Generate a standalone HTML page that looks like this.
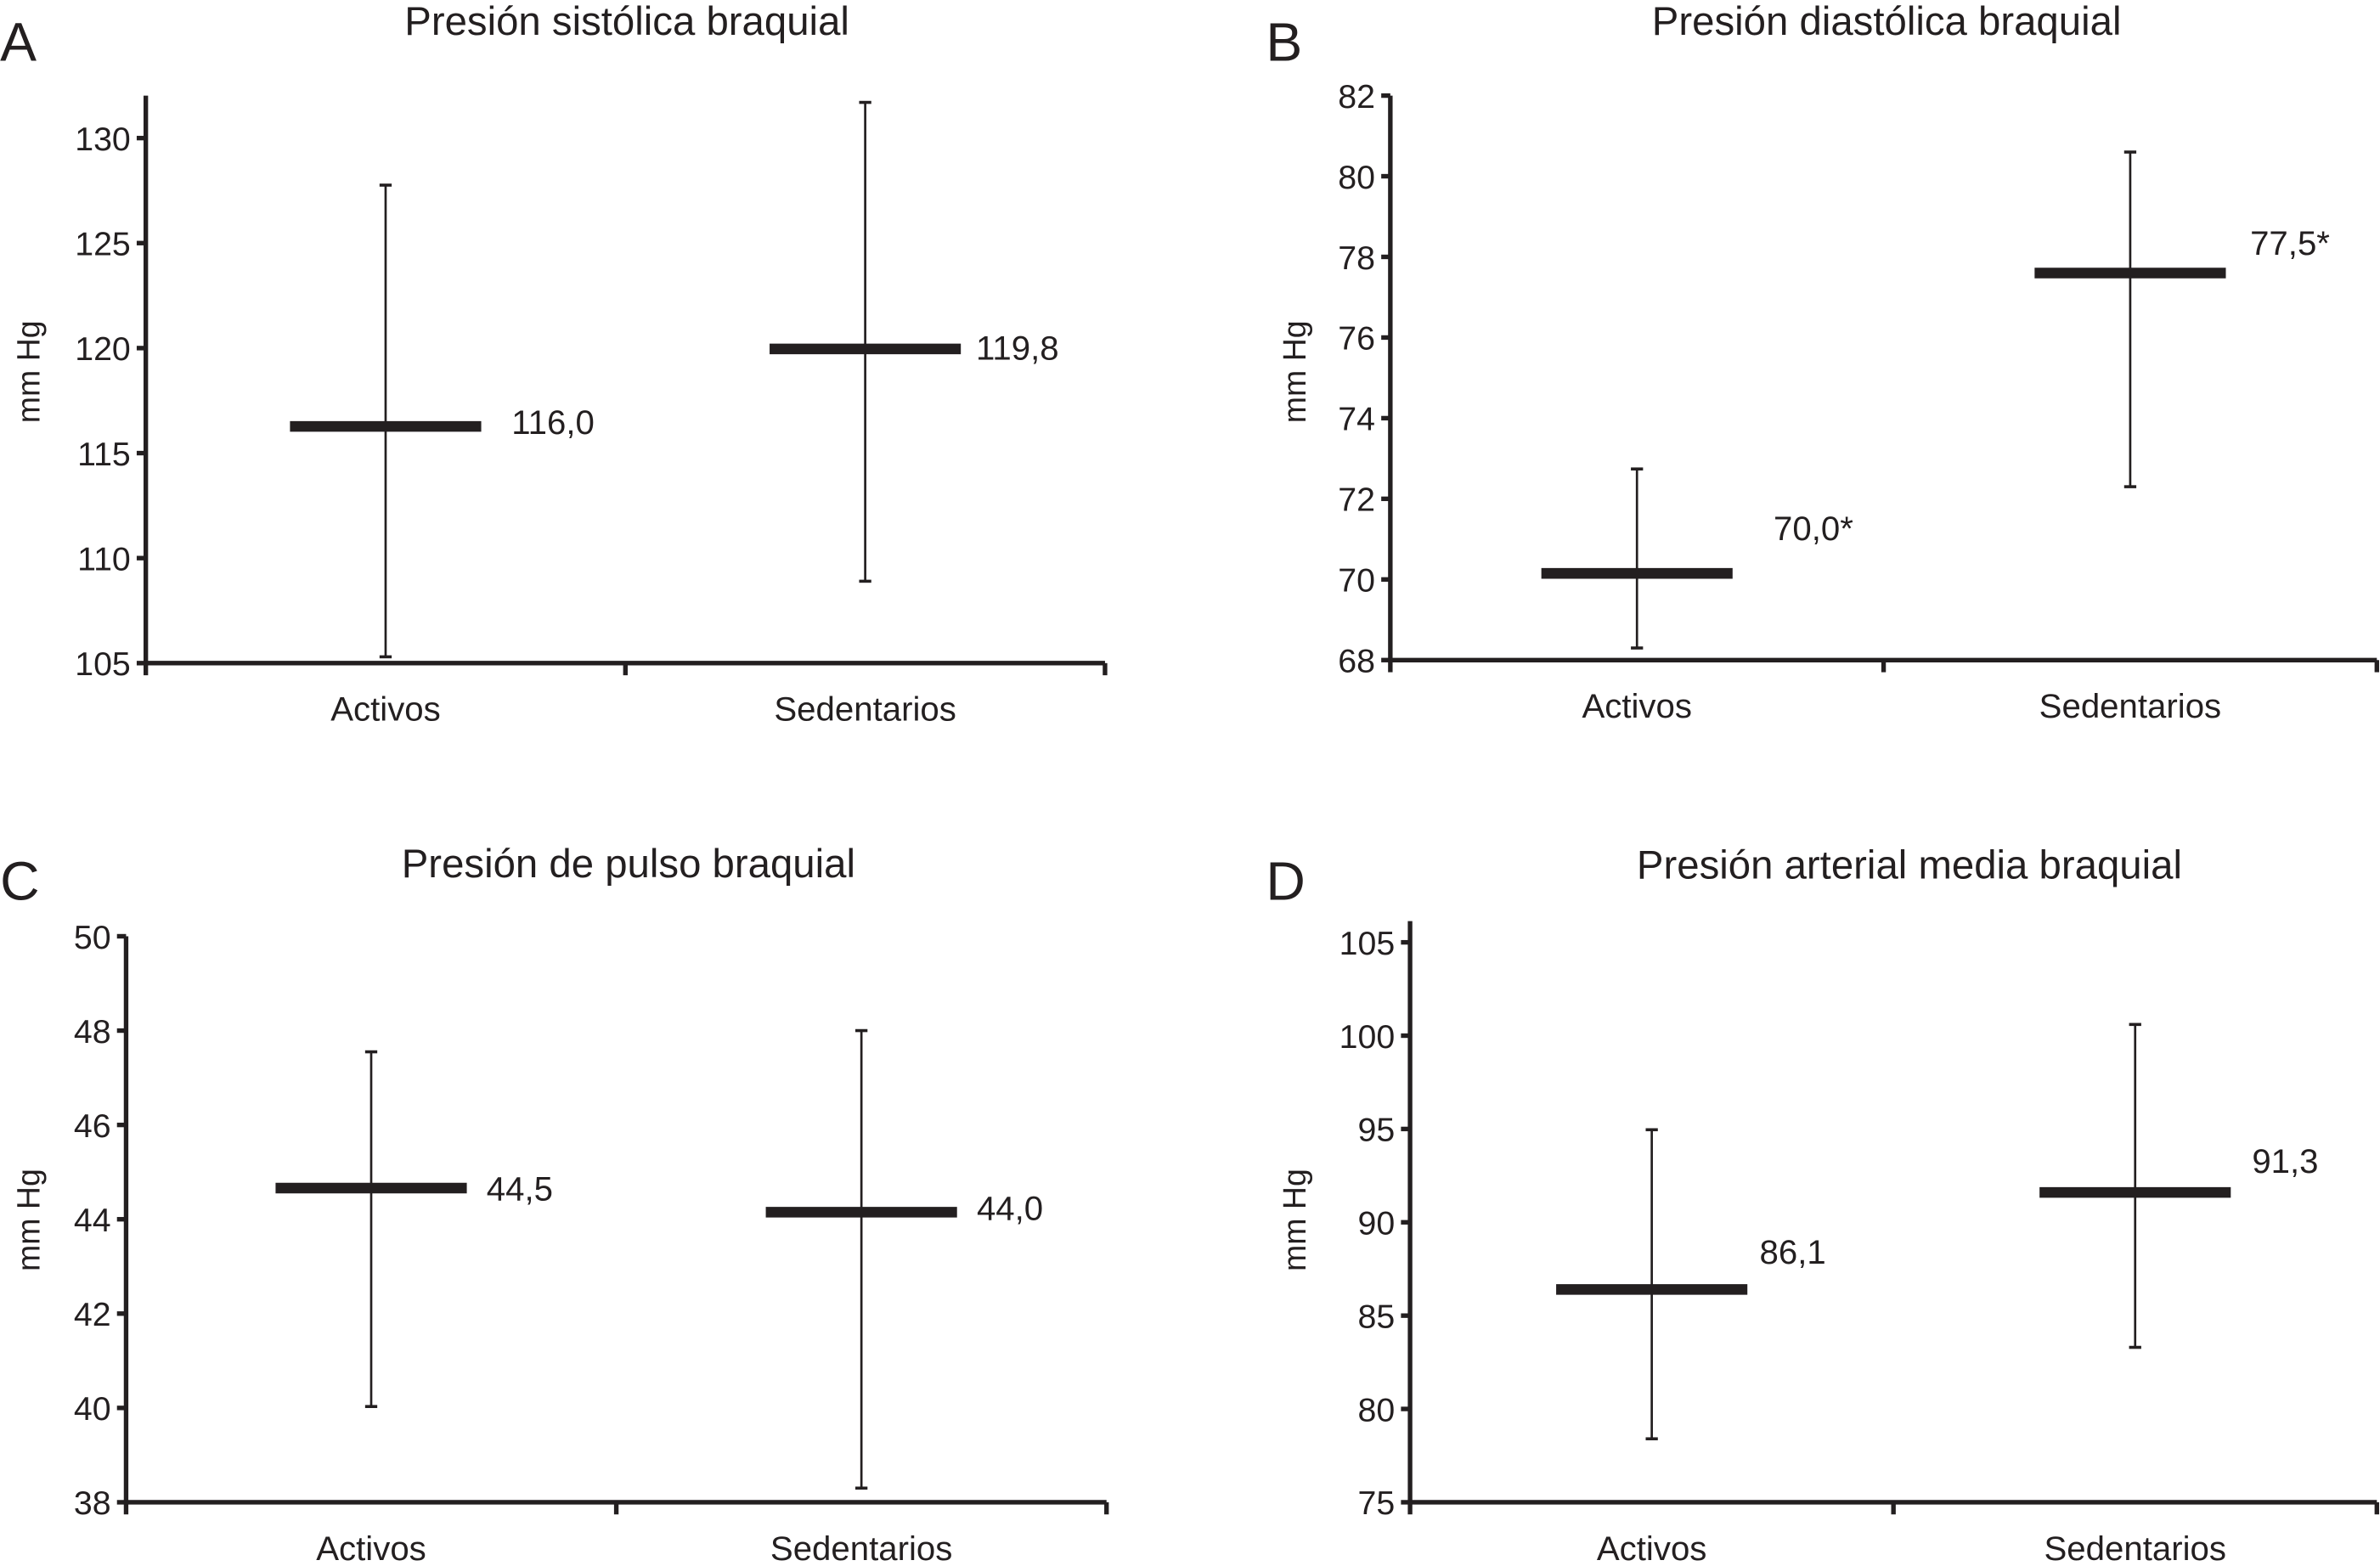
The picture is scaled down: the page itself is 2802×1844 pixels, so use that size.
<!DOCTYPE html>
<html><head><meta charset="utf-8"><style>
html,body{margin:0;padding:0;background:#fff;}
svg{display:block;}
text{font-family:"Liberation Sans",Arial,sans-serif;fill:#231f20;}
</style></head><body>
<svg id="chart" width="2802" height="1844" viewBox="0 0 1568 1032" xmlns="http://www.w3.org/2000/svg"></svg>
<script>
const categories = ["Activos","Sedentarios"];
const titles = ["Presión sistólica braquial","Presión diastólica braquial","Presión de pulso braquial","Presión arterial media braquial"];
const letters = ["A","B","C","D"];
const meansA = [116.27, 119.96];
const upperA = [127.76, 131.7];
const lowerA = [105.3, 108.9];
const labelsA = ["116,0","119,8"];
const ticksA = [105,110,115,120,125,130];
const meansB = [70.15, 77.6];
const upperB = [72.74, 80.6];
const lowerB = [68.3, 72.3];
const labelsB = ["70,0*","77,5*"];
const ticksB = [68,70,72,74,76,78,80,82];
const meansC = [44.66, 44.15];
const upperC = [47.55, 48.0];
const lowerC = [40.03, 38.3];
const labelsC = ["44,5","44,0"];
const ticksC = [38,40,42,44,46,48,50];
const meansD = [86.4, 91.6];
const upperD = [94.96, 100.6];
const lowerD = [78.4, 83.3];
const labelsD = ["86,1","91,3"];
const ticksD = [75,80,85,90,95,100,105];

const NS="http://www.w3.org/2000/svg";
const svg=document.getElementById('chart');
function mk(tag,attrs,parent){const e=document.createElementNS(NS,tag);for(const k in attrs)e.setAttribute(k,attrs[k]);(parent||svg).appendChild(e);return e;}

const panels=[
 {means:meansA,up:upperA,lo:lowerA,labels:labelsA,ticks:ticksA,ax:96,x1:728,yTop:63,yBot:437,vMin:105,vMax:130,vMaxY:91,titleX:413,titleY:23,letterX:0,letterY:40,ylabX:26,ylabY:245,lab:[[20,5],[10,7]],name:'panel-a'},
 {means:meansB,up:upperB,lo:lowerB,labels:labelsB,ticks:ticksB,ax:916,x1:1566,yTop:63,yBot:435,vMin:68,vMax:82,vMaxY:63,titleX:1243,titleY:23,letterX:834,letterY:40,ylabX:860,ylabY:245,lab:[[27,-22],[16,-12]],name:'panel-b'},
 {means:meansC,up:upperC,lo:lowerC,labels:labelsC,ticks:ticksC,ax:83,x1:729,yTop:617,yBot:990,vMin:38,vMax:50,vMaxY:617,titleX:414,titleY:578,letterX:0,letterY:593,ylabX:26,ylabY:804,lab:[[13,8],[13,5]],name:'panel-c'},
 {means:meansD,up:upperD,lo:lowerD,labels:labelsD,ticks:ticksD,ax:929,x1:1566,yTop:607,yBot:990,vMin:75,vMax:105,vMaxY:621,titleX:1258,titleY:579,letterX:834,letterY:593,ylabX:860,ylabY:804,lab:[[8,-17],[14,-13]],name:'panel-d'}
];
panels.forEach((p,pi)=>{
 const g=mk('g',{});
 
 
 const y=v=>p.yBot-(v-p.vMin)/(p.vMax-p.vMin)*(p.yBot-p.vMaxY);
 const w=(p.x1-p.ax)/categories.length;
 const cx=i=>p.ax+w*(i+0.5);
 const L=mk('text',{x:p.letterX,y:p.letterY,'font-size':36},g);L.textContent=letters[pi];
 
 
 const T=mk('text',{x:p.titleX,y:p.titleY,'font-size':26.5,'text-anchor':'middle'},g);T.textContent=titles[pi];
 
 
 const Y=mk('text',{x:p.ylabX,y:p.ylabY,'font-size':21,'text-anchor':'middle',transform:`rotate(-90 ${p.ylabX} ${p.ylabY})`},g);Y.textContent='mm Hg';
 
 
 const ya=mk('line',{x1:p.ax,y1:p.yTop,x2:p.ax,y2:p.yBot,stroke:'#231f20','stroke-width':3},g);
 
 
 const xa=mk('line',{x1:p.ax-1.5,y1:p.yBot,x2:p.x1,y2:p.yBot,stroke:'#231f20','stroke-width':3},g);
 
 
 p.ticks.forEach(t=>{
  mk('line',{x1:p.ax-6,y1:y(t),x2:p.ax,y2:y(t),stroke:'#231f20','stroke-width':3},g);
  const tt=mk('text',{x:p.ax-10,y:y(t)+8,'font-size':22,'text-anchor':'end'},g);tt.textContent=t;
  
  
 });
 for(let i=0;i<=categories.length;i++){
  const xx=p.ax+w*i;
  mk('line',{x1:xx,y1:p.yBot,x2:xx,y2:p.yBot+8,stroke:'#231f20','stroke-width':3},g);
 }
 categories.forEach((c,i)=>{
  const ct=mk('text',{x:cx(i),y:p.yBot+38,'font-size':22.5,'text-anchor':'middle'},g);ct.textContent=c;
  
  
  const eb=mk('line',{x1:cx(i),y1:y(p.up[i]),x2:cx(i),y2:y(p.lo[i]),stroke:'#231f20','stroke-width':1.5},g);
  
  
  mk('line',{x1:cx(i)-4,y1:y(p.up[i]),x2:cx(i)+4,y2:y(p.up[i]),stroke:'#231f20','stroke-width':2},g);
  mk('line',{x1:cx(i)-4,y1:y(p.lo[i]),x2:cx(i)+4,y2:y(p.lo[i]),stroke:'#231f20','stroke-width':2},g);
  const m=mk('line',{x1:cx(i)-63,y1:y(p.means[i]),x2:cx(i)+63,y2:y(p.means[i]),stroke:'#231f20','stroke-width':7},g);
  
  
  const lb=mk('text',{x:cx(i)+63+p.lab[i][0],y:y(p.means[i])+p.lab[i][1],'font-size':22.5},g);lb.textContent=p.labels[i];
  
  
 });
});
</script>
</body></html>
